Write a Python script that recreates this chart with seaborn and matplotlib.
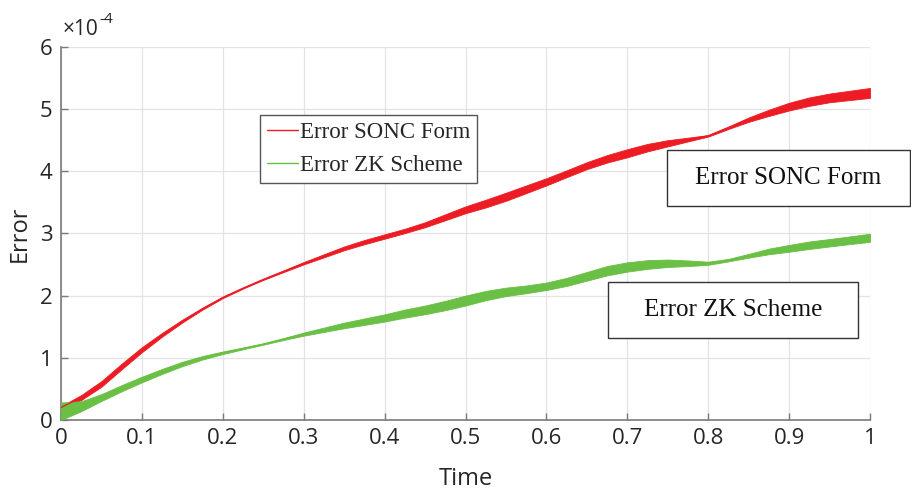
import numpy as np
import pandas as pd
import seaborn as sns
import matplotlib
matplotlib.use("Agg")
import matplotlib.pyplot as plt
from matplotlib.patches import Rectangle

# Time samples
time = [0.0, 0.025, 0.05, 0.075, 0.1, 0.125, 0.15, 0.175, 0.2, 0.225, 0.25, 0.275,
        0.3, 0.325, 0.35, 0.375, 0.4, 0.425, 0.45, 0.475, 0.5, 0.525, 0.55, 0.575,
        0.6, 0.625, 0.65, 0.675, 0.7, 0.725, 0.75, 0.775, 0.8, 0.825, 0.85, 0.875,
        0.9, 0.925, 0.95, 0.975, 1.0]

# Error of the SONC form (x 1e-4): centre and half-width of the oscillation band
sonc_mid = [0.20, 0.36, 0.58, 0.86, 1.13, 1.37, 1.59, 1.79, 1.97, 2.12, 2.26, 2.39,
            2.52, 2.64, 2.76, 2.86, 2.95, 3.04, 3.14, 3.26, 3.38, 3.48, 3.59, 3.71,
            3.83, 3.96, 4.09, 4.20, 4.29, 4.38, 4.45, 4.51, 4.57, 4.70, 4.83, 4.94,
            5.04, 5.12, 5.18, 5.22, 5.26]
sonc_half = [0.020, 0.040, 0.045, 0.045, 0.040, 0.030, 0.022, 0.015, 0.010, 0.007, 0.008, 0.012,
             0.018, 0.025, 0.030, 0.034, 0.035, 0.035, 0.040, 0.048, 0.055, 0.062, 0.065, 0.062,
             0.058, 0.055, 0.056, 0.060, 0.065, 0.060, 0.050, 0.030, 0.012, 0.020, 0.035, 0.050,
             0.062, 0.068, 0.070, 0.075, 0.080]

# Error of the ZK scheme (x 1e-4)
zk_mid = [0.14, 0.22, 0.36, 0.51, 0.65, 0.78, 0.90, 1.00, 1.08, 1.15, 1.22, 1.30,
          1.38, 1.45, 1.52, 1.58, 1.64, 1.71, 1.77, 1.84, 1.92, 2.00, 2.06, 2.10,
          2.15, 2.22, 2.31, 2.40, 2.46, 2.50, 2.52, 2.52, 2.52, 2.57, 2.64, 2.71,
          2.76, 2.81, 2.85, 2.89, 2.93]
zk_half = [0.140, 0.080, 0.055, 0.050, 0.045, 0.040, 0.035, 0.028, 0.020, 0.014, 0.010, 0.015,
           0.025, 0.035, 0.045, 0.052, 0.058, 0.065, 0.070, 0.075, 0.080, 0.075, 0.068, 0.062,
           0.060, 0.065, 0.070, 0.075, 0.075, 0.070, 0.060, 0.045, 0.025, 0.020, 0.030, 0.045,
           0.055, 0.060, 0.060, 0.062, 0.065]

series_names = ["Error SONC Form", "Error ZK Scheme"]
x_ticks = [0, 0.1, 0.2, 0.3, 0.4, 0.5, 0.6, 0.7, 0.8, 0.9, 1]
x_tick_labels = ["0", "0.1", "0.2", "0.3", "0.4", "0.5", "0.6", "0.7", "0.8", "0.9", "1"]
y_ticks = [0, 1, 2, 3, 4, 5, 6]

RED = "#ed1c24"
GREEN = "#6abf45"
TEXT = "#262626"

sns.set_theme(style="white")
plt.rcParams["font.family"] = ["Open Sans", "DejaVu Sans"]

fig = plt.figure(figsize=(9.11, 4.94), dpi=100)
ax = fig.add_axes([0.067, 0.150, 0.888, 0.755])

df = pd.DataFrame({
    "Time": time * 2,
    "Error": sonc_mid + zk_mid,
    "Series": [series_names[0]] * len(time) + [series_names[1]] * len(time),
})

t = np.array(time)
ax.fill_between(t, np.array(sonc_mid) - np.array(sonc_half),
                np.array(sonc_mid) + np.array(sonc_half),
                color=RED, lw=0.6, ec=RED, zorder=2)
ax.fill_between(t, np.array(zk_mid) - np.array(zk_half),
                np.array(zk_mid) + np.array(zk_half),
                color=GREEN, lw=0.6, ec=GREEN, zorder=3)
sns.lineplot(data=df, x="Time", y="Error", hue="Series",
             palette=[RED, GREEN], linewidth=0.9, ax=ax, zorder=4, legend=True)

ax.set_xlim(0, 1)
ax.set_ylim(0, 6)
ax.set_xticks(x_ticks)
ax.set_xticklabels(x_tick_labels)
ax.set_yticks(y_ticks)
ax.grid(True, color="#e3e3e3", lw=0.9)
ax.set_axisbelow(True)
for side in ["top", "right"]:
    ax.spines[side].set_visible(False)
for side in ["left", "bottom"]:
    ax.spines[side].set_color("#7a7a7a")
    ax.spines[side].set_linewidth(1.2)
ax.tick_params(direction="in", length=5, width=1.0, color="#7a7a7a",
               labelsize=16, labelcolor=TEXT, pad=6,
               bottom=True, left=True)
ax.set_xlabel("Time", fontsize=17, color=TEXT, labelpad=13)
ax.set_ylabel("Error", fontsize=17, color=TEXT, labelpad=6)

# exponent marker above the y axis
fig.text(63 / 911, 1 - 35 / 494, "\u00d710", fontsize=15, color=TEXT,
         ha="left", va="baseline")
fig.text(99 / 911, 1 - 23 / 494, "-4", fontsize=11, color=TEXT,
         ha="left", va="baseline")

leg = ax.legend(loc="upper left", bbox_to_anchor=(0.246, 0.818), borderaxespad=0,
                frameon=True, fancybox=False, framealpha=1, edgecolor="#555555",
                prop={"family": "Liberation Serif", "size": 16.5},
                handlelength=1.35, handletextpad=0.1, borderpad=0.3,
                labelspacing=0.55)
leg.get_frame().set_linewidth(1.0)
for line in leg.get_lines():
    line.set_linewidth(1.0)

# annotation boxes on the right
W, H = 911, 494
def label_box(x0, y0, x1, y1, text):
    fig.add_artist(Rectangle((x0 / W, 1 - y1 / H), (x1 - x0) / W, (y1 - y0) / H,
                             transform=fig.transFigure, fill=True, fc="white",
                             ec="#333333", lw=1.0, zorder=10))
    fig.text((x0 + x1) / 2 / W, 1 - (y0 + y1) / 2 / H, text,
             family="Liberation Serif", fontsize=18, color="#111111",
             ha="center", va="center", zorder=11)

label_box(667, 150, 910, 206, "Error SONC Form")
label_box(608, 282, 858, 338, "Error ZK Scheme")

fig.savefig("out.png", dpi=100)
